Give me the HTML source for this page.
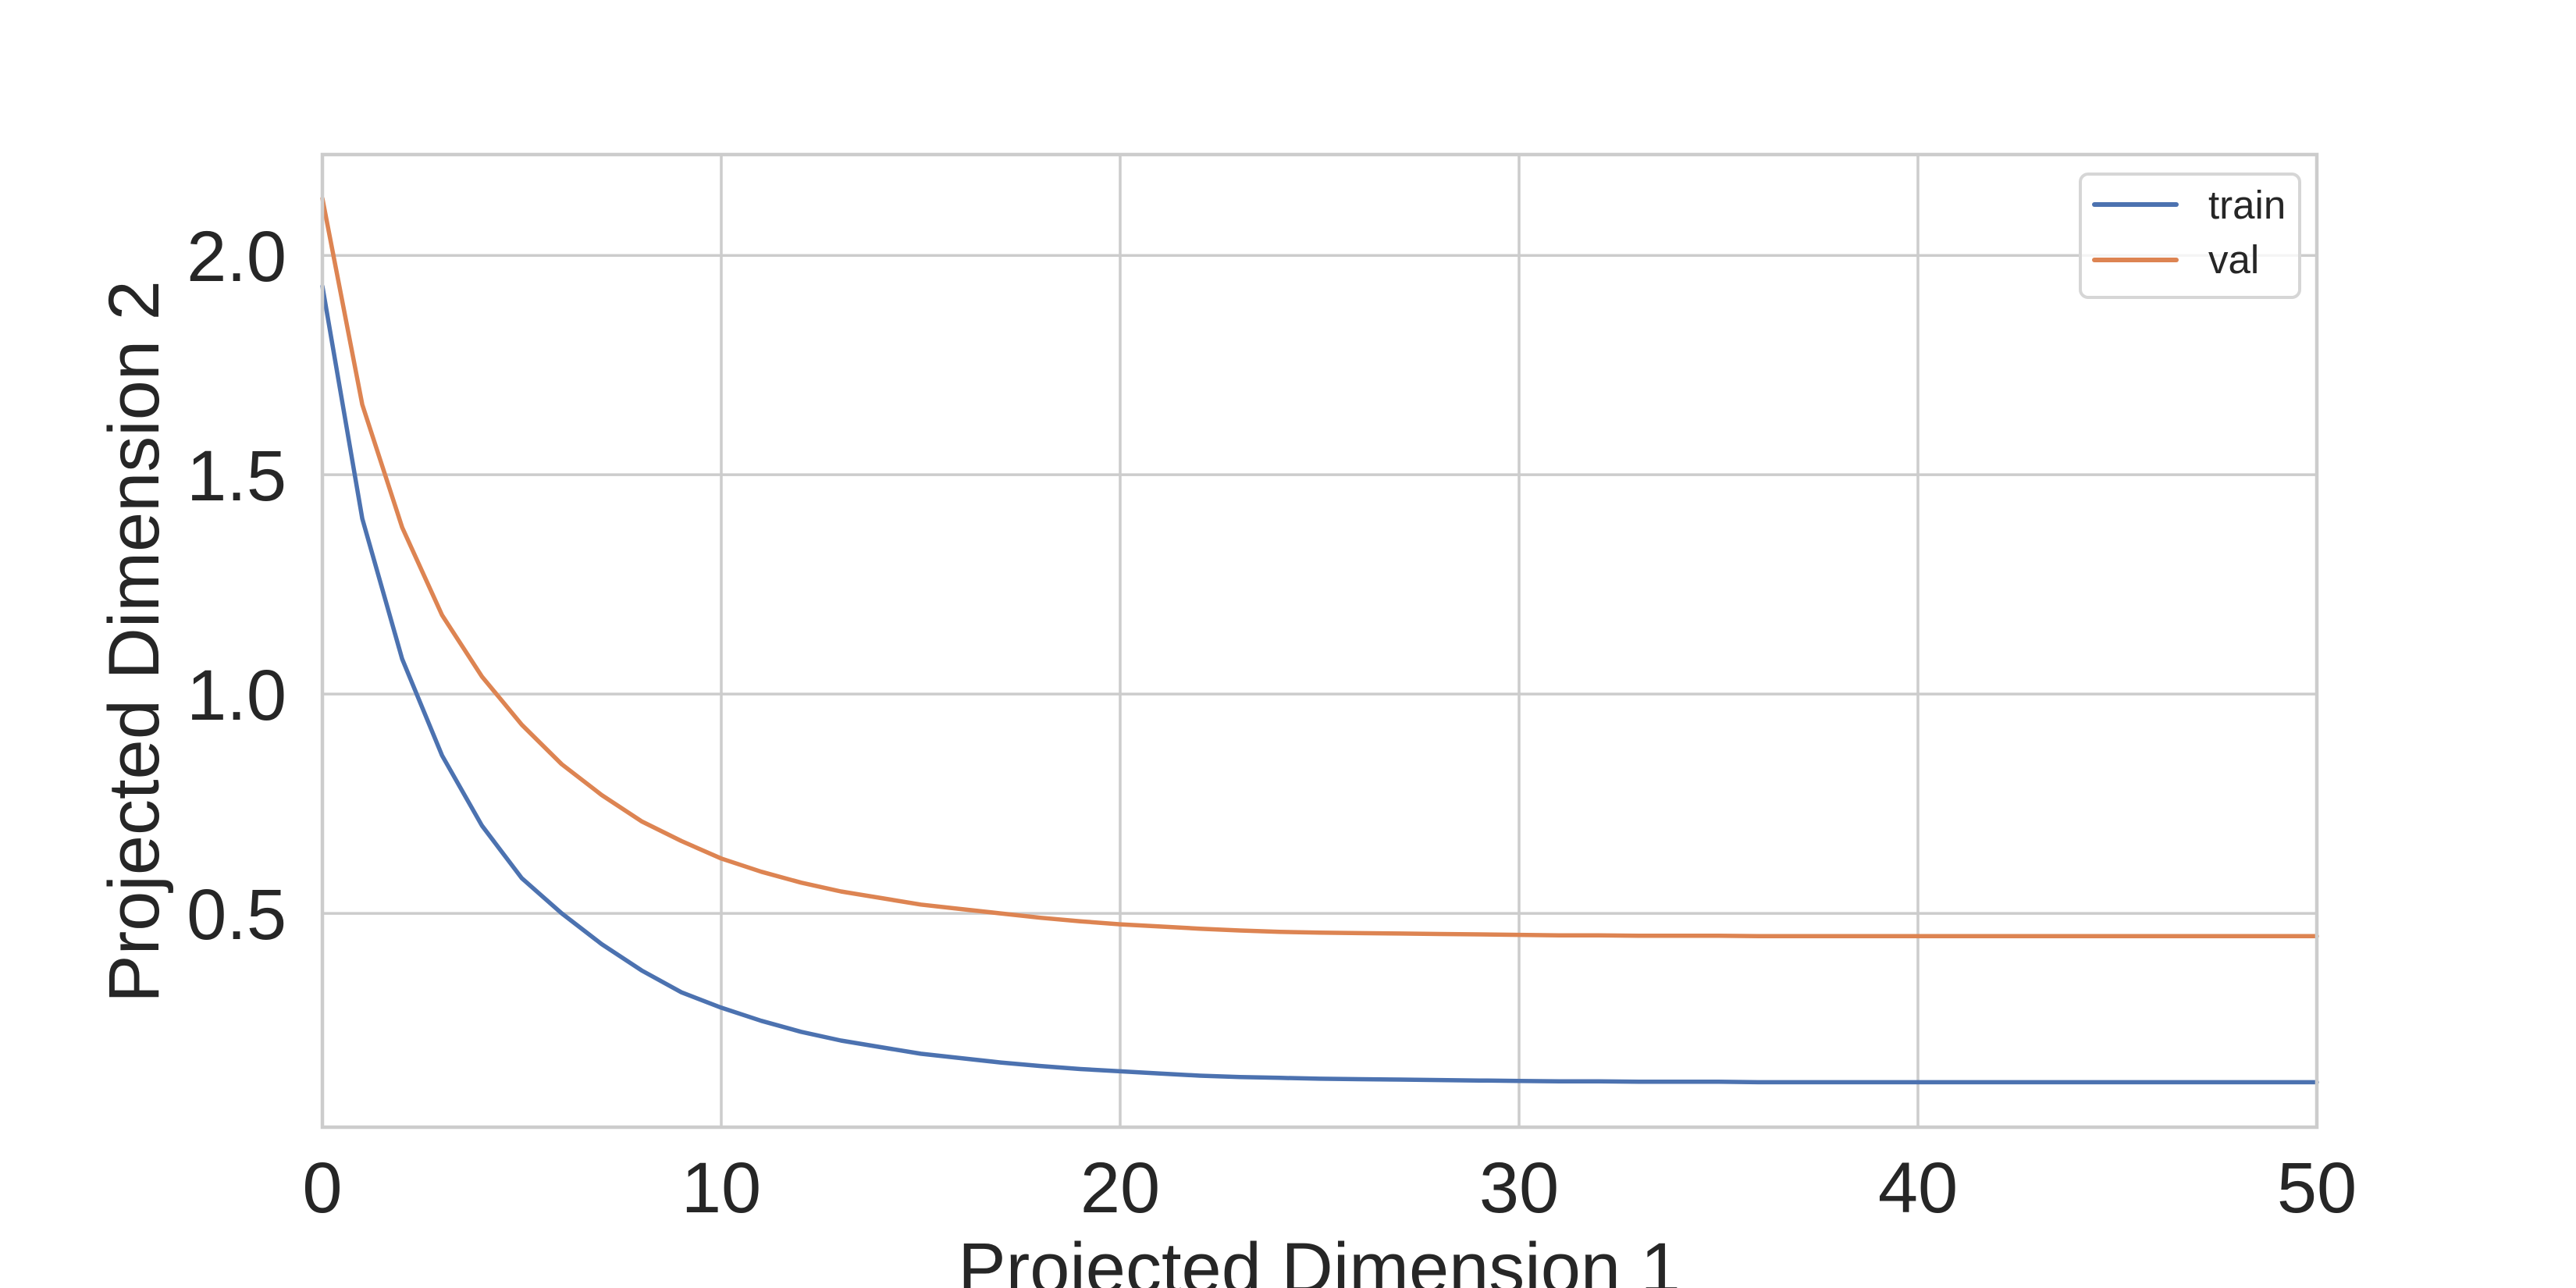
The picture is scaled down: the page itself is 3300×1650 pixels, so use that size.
<!DOCTYPE html>
<html><head><meta charset="utf-8"><style>
html,body{margin:0;padding:0;background:#fff;}
svg{display:block;font-family:"Liberation Sans",Arial,sans-serif;}
</style></head><body>
<svg id="chart" width="3300" height="1650" viewBox="0 0 3300 1650">
<g id="grid"></g>
<g id="series"></g>
<rect x="413" y="198" width="2555" height="1246" fill="none" stroke="#cccccc" stroke-width="4.5"/>
<g id="ticks"></g>
<text x="1690" y="1656" font-size="92" fill="#262626" text-anchor="middle">Projected Dimension 1</text>
<text transform="translate(203,822) rotate(-90)" font-size="92" fill="#262626" text-anchor="middle">Projected Dimension 2</text>
<g>
<rect x="2665" y="223" width="281" height="158" rx="10" fill="#ffffff" fill-opacity="0.8" stroke="#d6d6d6" stroke-width="4"/>
<line x1="2683" y1="262" x2="2788" y2="262" stroke="#4c72b0" stroke-width="6" stroke-linecap="round"/>
<text x="2829" y="280" font-size="51" fill="#262626">train</text>
<line x1="2683" y1="333" x2="2788" y2="333" stroke="#dd8452" stroke-width="6" stroke-linecap="round"/>
<text x="2829" y="350" font-size="51" fill="#262626">val</text>
</g>
</svg>
<script>
const epochs = Array.from({length:51},(_,i)=>i);
const trainLoss = [1.93,1.40,1.08,0.86,0.70,0.58,0.50,0.43,0.37,0.32,0.285,0.255,0.23,0.21,0.195,0.18,0.17,0.16,0.152,0.145,0.14,0.135,0.13,0.127,0.125,0.123,0.122,0.121,0.12,0.119,0.118,0.117,0.117,0.116,0.116,0.116,0.115,0.115,0.115,0.115,0.115,0.115,0.115,0.115,0.115,0.115,0.115,0.115,0.115,0.115,0.115];
const valLoss = [2.13,1.66,1.38,1.18,1.04,0.93,0.84,0.77,0.71,0.665,0.625,0.595,0.57,0.55,0.535,0.52,0.51,0.50,0.49,0.482,0.475,0.47,0.465,0.461,0.458,0.456,0.455,0.454,0.453,0.452,0.451,0.45,0.45,0.449,0.449,0.449,0.448,0.448,0.448,0.448,0.448,0.448,0.448,0.448,0.448,0.448,0.448,0.448,0.448,0.448,0.448];
const xTicks = [0,10,20,30,40,50];
const yTicks = [0.5,1.0,1.5,2.0];
const yTickLabels = ["0.5","1.0","1.5","2.0"];

const NS="http://www.w3.org/2000/svg";
const X0=413,X1=2968,Y0=1444,Y1=198;
const xMin=0,xMax=50,yMin=0.0125,yMax=2.23;
function sx(v){return X0+(v-xMin)/(xMax-xMin)*(X1-X0);}
function sy(v){return Y0-(v-yMin)/(yMax-yMin)*(Y0-Y1);}
function mk(tag,attrs,parent){const e=document.createElementNS(NS,tag);for(const k in attrs)e.setAttribute(k,attrs[k]);parent.appendChild(e);return e;}
const grid=document.getElementById('grid'),ticks=document.getElementById('ticks'),series=document.getElementById('series');
xTicks.forEach(t=>{
  const l=mk('line',{x1:sx(t),x2:sx(t),y1:Y1,y2:Y0,stroke:'#cccccc','stroke-width':3.5},grid);
  
  
  const tx=mk('text',{x:sx(t),y:1553,'font-size':92,fill:'#262626','text-anchor':'middle'},ticks);
  tx.textContent=String(t);
  
  
});
yTicks.forEach((t,i)=>{
  const l=mk('line',{x1:X0,x2:X1,y1:sy(t),y2:sy(t),stroke:'#cccccc','stroke-width':3.5},grid);
  
  
  const tx=mk('text',{x:367,y:sy(t)+33,'font-size':92,fill:'#262626','text-anchor':'end'},ticks);
  tx.textContent=yTickLabels[i];
  
  
});
function path(vals,color,name){
  const d=vals.map((v,i)=>(i?'L':'M')+sx(epochs[i]).toFixed(1)+','+sy(v).toFixed(1)).join(' ');
  const p=mk('path',{d:d,fill:'none',stroke:color,'stroke-width':5.5,'stroke-linejoin':'round','stroke-linecap':'round'},series);
  
  
}
path(trainLoss,'#4c72b0','train-line');
path(valLoss,'#dd8452','val-line');
</script>
</body></html>
